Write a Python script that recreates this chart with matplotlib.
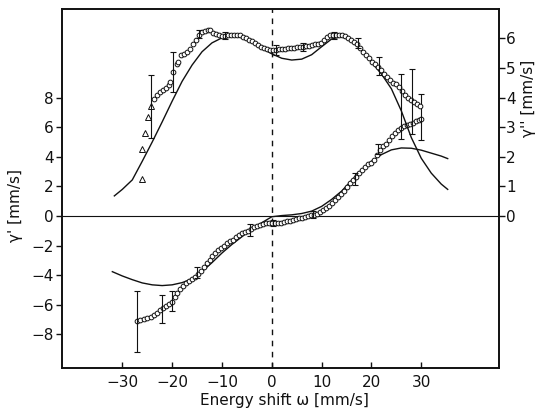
import numpy as np
import matplotlib
matplotlib.use("Agg")
import matplotlib.pyplot as plt

plt.rcParams["font.family"] = ["DejaVu Sans"]

# gamma'' (right axis) - theory curve
th2_x = [-31.6, -30, -28, -26, -24, -22, -20, -18, -16, -14, -12, -10, -8, -6, -4, -2,
         0, 2, 4, 6, 8, 10, 12, 14, 16, 18, 20, 22, 24, 26, 28, 30, 32, 34, 35.3]
th2_y = [0.68, 0.9, 1.22, 1.85, 2.5, 3.18, 3.88, 4.55, 5.1, 5.55, 5.85, 6.02, 6.08, 6.03,
         5.88, 5.67, 5.48, 5.33, 5.27, 5.3, 5.45, 5.72, 5.98, 6.06, 5.93, 5.6, 5.2, 4.8,
         4.3, 3.55, 2.65, 1.95, 1.45, 1.08, 0.9]

# gamma' (left axis) - theory curve
th1_x = [-32, -30, -28, -26, -24, -22, -20, -18, -16, -14, -12, -10, -8, -6, -4, -2,
         0, 2, 4, 6, 8, 10, 12, 14, 16, 18, 20, 22, 24, 26, 28, 30, 32, 34, 35.3]
th1_y = [-3.76, -4.05, -4.3, -4.52, -4.65, -4.7, -4.65, -4.5, -4.25, -3.75, -3.15, -2.5,
         -1.92, -1.4, -0.85, -0.45, -0.05, 0.03, 0.08, 0.17, 0.33, 0.65, 1.12, 1.68, 2.4,
         3.1, 3.7, 4.15, 4.47, 4.6, 4.58, 4.45, 4.25, 4.05, 3.88]

# gamma'' measured: isolated triangles
tri_x = [-26.1, -26.0, -25.5, -24.9, -24.3]
tri_y = [1.25, 2.25, 2.82, 3.36, 3.73]

# gamma'' measured: dense points
up_x = [-23.7, -23.1, -22.5, -21.9, -21.3, -20.7, -20.4, -19.9, -19.0, -18.8, -18.3, -17.7,
        -17.1, -16.5, -15.9, -15.3, -14.7, -14.1, -13.5, -12.9, -12.4, -11.8, -11.2, -10.6,
        -10.0, -9.4, -8.8, -8.2, -7.6, -7.0, -6.4, -5.8, -5.2, -4.6, -4.0, -3.4, -2.8, -2.2,
        -1.6, -1.0, -0.4, 0.3, 0.9, 1.5, 2.1, 2.7, 3.3, 3.9, 4.5, 5.1, 5.7, 6.3, 6.9, 7.5,
        8.1, 8.7, 9.3, 9.9, 10.5, 11.1, 11.7, 12.3, 12.9, 13.5, 14.1, 14.7, 15.3, 15.9, 16.5,
        17.1, 17.7, 18.3, 18.9, 19.5, 20.1, 20.7, 21.3, 21.9, 22.5, 23.1, 23.7, 24.3, 24.9,
        25.5, 26.1, 26.7, 27.3, 27.9, 28.5, 29.1, 29.7]
up_y = [3.97, 4.1, 4.18, 4.25, 4.32, 4.42, 4.54, 4.85, 5.12, 5.2, 5.43, 5.48, 5.55, 5.65,
        5.8, 5.95, 6.1, 6.23, 6.25, 6.3, 6.28, 6.2, 6.14, 6.1, 6.08, 6.09, 6.1, 6.1, 6.1,
        6.1, 6.1, 6.05, 6.0, 5.95, 5.9, 5.85, 5.78, 5.72, 5.68, 5.65, 5.62, 5.6, 5.62, 5.63,
        5.64, 5.65, 5.66, 5.67, 5.68, 5.7, 5.71, 5.72, 5.74, 5.76, 5.78, 5.8, 5.82, 5.86,
        5.95, 6.05, 6.1, 6.12, 6.12, 6.1, 6.1, 6.08, 6.03, 5.95, 5.88, 5.8, 5.68, 5.55, 5.43,
        5.35, 5.22, 5.15, 5.05, 4.92, 4.8, 4.68, 4.58, 4.5, 4.45, 4.35, 4.22, 4.1, 4.0, 3.92,
        3.85, 3.78, 3.72]

# gamma' measured
lo_x = [-27.1, -26.4, -25.7, -25.0, -24.3, -23.6, -23.0, -22.4, -21.8, -21.2, -20.6, -20.0,
        -19.5, -19.0, -18.5, -17.9, -17.3, -16.7, -16.1, -15.5, -14.9, -14.3, -13.7, -13.1,
        -12.5, -11.9, -11.3, -10.7, -10.1, -9.5, -8.9, -8.3, -7.7, -7.1, -6.5, -5.9, -5.3,
        -4.7, -4.1, -3.5, -2.9, -2.3, -1.7, -1.1, -0.5, 0.1, 0.7, 1.3, 1.9, 2.5, 3.1, 3.7,
        4.3, 4.9, 5.5, 6.1, 6.7, 7.3, 7.9, 8.5, 9.1, 9.7, 10.3, 10.9, 11.5, 12.1, 12.7, 13.3,
        13.9, 14.5, 15.1, 15.7, 16.3, 16.9, 17.5, 18.1, 18.7, 19.3, 19.9, 20.5, 21.1, 21.7,
        22.3, 22.9, 23.5, 24.1, 24.7, 25.3, 25.9, 26.5, 27.1, 27.7, 28.3, 28.9, 29.5, 30.0]
lo_y = [-7.07, -7.02, -6.98, -6.9, -6.8, -6.68, -6.55, -6.35, -6.2, -6.1, -5.95, -5.8,
        -5.5, -5.2, -4.9, -4.7, -4.55, -4.42, -4.28, -4.12, -3.95, -3.7, -3.45, -3.2, -2.95,
        -2.72, -2.5, -2.3, -2.15, -2.0, -1.85, -1.72, -1.6, -1.45, -1.3, -1.18, -1.05, -0.98,
        -0.88, -0.75, -0.65, -0.58, -0.54, -0.5, -0.48, -0.47, -0.46, -0.45, -0.44, -0.4,
        -0.36, -0.31, -0.27, -0.2, -0.15, -0.1, -0.06, 0.0, 0.05, 0.1, 0.17, 0.25, 0.4,
        0.52, 0.7, 0.88, 1.08, 1.3, 1.5, 1.72, 1.95, 2.2, 2.42, 2.66, 2.9, 3.12, 3.32, 3.5,
        3.6, 3.8, 4.1, 4.45, 4.7, 4.9, 5.15, 5.4, 5.6, 5.8, 5.95, 6.05, 6.12, 6.2, 6.3, 6.4,
        6.48, 6.53]

# error bars
eb2_x = [-24.3, -19.9, -14.7, -9.4, 0.9, 6.3, 12.5, 17.3, 21.5, 25.9, 28.1]
eb2_y = [3.7, 4.87, 6.15, 6.1, 5.6, 5.72, 6.1, 5.83, 5.07, 3.71, 3.86]
eb2_e = [1.05, 0.68, 0.15, 0.12, 0.17, 0.14, 0.12, 0.17, 0.31, 1.1, 1.1]

eb1_x = [-27.1, -22.1, -20.0, -15.1, -4.4, 0.3, 8.3, 16.6, 21.3, 29.9]
eb1_y = [-7.1, -6.3, -5.75, -3.83, -0.95, -0.5, 0.1, 2.5, 4.55, 6.7]
eb1_e = [2.06, 0.93, 0.7, 0.37, 0.4, 0.2, 0.25, 0.4, 0.35, 1.54]

x_ticks = [-30, -20, -10, 0, 10, 20, 30]
y1_ticks = [-8, -6, -4, -2, 0, 2, 4, 6, 8]
y2_ticks = [0, 1, 2, 3, 4, 5, 6]

ink = "#111111"

fig = plt.figure(figsize=(5.36, 4.08), dpi=100)
ax = fig.add_axes([0.1157, 0.098, 0.8153, 0.88])
ax2 = ax.twinx()

ax.set_xlim(-42.1, 45.6)
ax.set_ylim(-10.27, 13.99)
ax2.set_ylim(-10.27 / 2, 13.99 / 2)

ax.axhline(0, color=ink, lw=0.8)
ax.axvline(0, color=ink, lw=1.0, ls=(0, (4, 4)))

ax.plot(th1_x, th1_y, color=ink, lw=1.0)
ax2.plot(th2_x, th2_y, color=ink, lw=1.0)

mk = dict(ls="none", mfc="white", mec=ink, mew=0.7)
ax.plot(lo_x, lo_y, marker="o", ms=3.4, **mk)
ax2.plot(up_x, up_y, marker="o", ms=3.4, **mk)
ax2.plot(tri_x, tri_y, marker="^", ms=3.8, **mk)

ax.errorbar(eb1_x, eb1_y, yerr=eb1_e, fmt="none", ecolor=ink, elinewidth=0.8, capsize=2, capthick=0.8)
ax2.errorbar(eb2_x, eb2_y, yerr=eb2_e, fmt="none", ecolor=ink, elinewidth=0.8, capsize=2, capthick=0.8)

ax.set_xticks(x_ticks)
ax.set_yticks(y1_ticks)
ax2.set_yticks(y2_ticks)
ax.tick_params(axis="x", direction="in", length=4, width=1, labelsize=11, colors=ink, pad=5)
ax.tick_params(axis="y", direction="out", length=4, width=1, labelsize=11, colors=ink, pad=2)
ax2.tick_params(axis="y", direction="out", length=4, width=1, labelsize=11, colors=ink, pad=1)
for a in (ax, ax2):
    for s in a.spines.values():
        s.set_linewidth(1.2)
        s.set_color(ink)

ax.set_xlabel("Energy shift ω [mm/s]", fontsize=11, color=ink)
ax.xaxis.set_label_coords(0.508, -0.07)
ax.set_ylabel("γ' [mm/s]", fontsize=11, color=ink)
ax.yaxis.set_label_coords(-0.09, 0.454)
ax2.set_ylabel("γ'' [mm/s]", fontsize=11, color=ink, rotation=90)
ax2.yaxis.set_label_coords(1.05, 0.752)

fig.savefig("out.png", dpi=100)
